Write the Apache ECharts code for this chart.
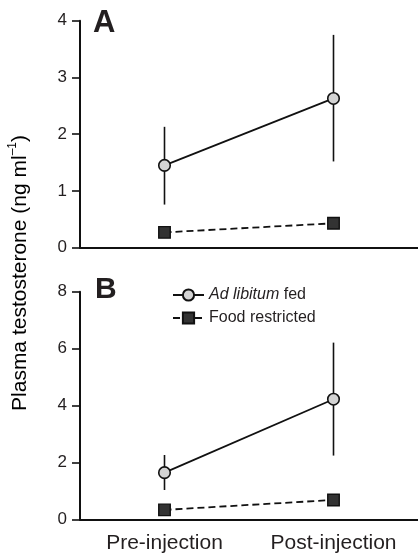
<!DOCTYPE html>
<html>
<head>
<meta charset="utf-8">
<script src="https://cdn.jsdelivr.net/npm/echarts@6/dist/echarts.min.js"></script>
<style>html,body{margin:0;padding:0;background:#fff;}#c{width:418px;height:554px;}</style>
</head>
<body>
<div id="c"></div>
<script>
var categories = ['Pre-injection', 'Post-injection'];
var seriesNames = ['Ad libitum fed', 'Food restricted'];
// Panel A
var adLibA = [1.45, 2.63];
var adLibA_low = [0.76, 1.52];
var adLibA_high = [2.13, 3.75];
var foodA = [0.27, 0.43];
// Panel B
var adLibB = [1.64, 4.22];
var adLibB_low = [1.03, 2.24];
var adLibB_high = [2.26, 6.21];
var foodB = [0.33, 0.68];
var yTicksA = [0, 1, 2, 3, 4];
var yTicksB = [0, 2, 4, 6, 8];
var panelLabels = ['A', 'B'];

var FONT = '"Liberation Sans", Arial, Helvetica, sans-serif';
var TXT = '#231f20';

function errData(low, high) {
  return low.map(function (l, i) { return [i, l, high[i]]; });
}
function errSeries(idx, low, high) {
  return {
    type: 'custom', xAxisIndex: idx, yAxisIndex: idx, z: 1, silent: true,
    data: errData(low, high),
    renderItem: function (params, api) {
      var p1 = api.coord([api.value(0), api.value(1)]);
      var p2 = api.coord([api.value(0), api.value(2)]);
      return { type: 'line', shape: { x1: p1[0], y1: p1[1], x2: p2[0], y2: p2[1] },
        style: { stroke: '#111', lineWidth: 1.6 } };
    }
  };
}
function xAx(idx, showLabel) {
  return {
    type: 'category', gridIndex: idx, data: categories, boundaryGap: true,
    axisLine: { lineStyle: { color: '#111', width: 2 } },
    axisTick: { alignWithLabel: true, length: 9, lineStyle: { color: '#111', width: 1.6 } },
    axisLabel: { show: showLabel, margin: 13, fontSize: 21, color: TXT, fontFamily: FONT },
    splitLine: { show: false }
  };
}
function yAx(idx, ticks) {
  return {
    type: 'value', gridIndex: idx, min: ticks[0], max: ticks[ticks.length - 1],
    interval: ticks[1] - ticks[0],
    axisLine: { show: true, lineStyle: { color: '#111', width: 2 } },
    axisTick: { show: true, length: 8, lineStyle: { color: '#111', width: 1.6 } },
    axisLabel: { margin: 13, fontSize: 17, color: TXT, fontFamily: FONT },
    splitLine: { show: false }
  };
}
function adSeries(idx, data) {
  return {
    name: seriesNames[0], type: 'line', xAxisIndex: idx, yAxisIndex: idx, z: 3,
    data: data, symbol: 'circle', symbolSize: 11.5,
    itemStyle: { color: '#d4d4d4', borderColor: '#111', borderWidth: 1.6 },
    lineStyle: { color: '#111', width: 1.8, type: 'solid' }
  };
}
function frSeries(idx, data) {
  return {
    name: seriesNames[1], type: 'line', xAxisIndex: idx, yAxisIndex: idx, z: 3,
    data: data, symbol: 'rect', symbolSize: 11.5,
    itemStyle: { color: '#333333', borderColor: '#111', borderWidth: 1.4 },
    lineStyle: { color: '#111', width: 1.8, type: [7, 4] }
  };
}

var chart = echarts.init(document.getElementById('c'), null, { renderer: 'canvas' });
chart.setOption({
  animation: false,
  backgroundColor: '#fff',
  grid: [
    { left: 80, right: -3, top: 20.7, height: 227 },
    { left: 80, right: -3, top: 291.7, height: 227.6 }
  ],
  xAxis: [xAx(0, false), xAx(1, true)],
  yAxis: [yAx(0, yTicksA), yAx(1, yTicksB)],
  legend: {
    orient: 'vertical', left: 172, top: 287, padding: 0, itemWidth: 31, itemHeight: 14, itemGap: 7,
    data: seriesNames,
    textStyle: { fontSize: 16, color: TXT, fontFamily: FONT,
      rich: { i: { fontStyle: 'italic', fontSize: 16, color: TXT, fontFamily: FONT } } },
    formatter: function (n) { return n === seriesNames[0] ? '{i|Ad libitum} fed' : n; }
  },
  graphic: [
    { type: 'text', left: 93, top: 8, z: 10,
      style: { text: panelLabels[0], font: 'bold 31px ' + FONT, fill: TXT } },
    { type: 'text', left: 95, top: 275, z: 10,
      style: { text: panelLabels[1], font: 'bold 30px ' + FONT, fill: TXT } },
    { type: 'text', x: 19, y: 273, rotation: Math.PI / 2, z: 10,
      style: {
        text: '{n|Plasma testosterone (ng ml}{s|–1}{n|)}',
        align: 'center', verticalAlign: 'middle',
        rich: {
          n: { fontSize: 21, fontFamily: FONT, color: TXT, lineHeight: 24, verticalAlign: 'bottom' },
          s: { fontSize: 12, fontFamily: FONT, color: TXT, lineHeight: 24, verticalAlign: 'top' }
        }
      } }
  ],
  series: [
    errSeries(0, adLibA_low, adLibA_high),
    adSeries(0, adLibA),
    frSeries(0, foodA),
    errSeries(1, adLibB_low, adLibB_high),
    adSeries(1, adLibB),
    frSeries(1, foodB)
  ]
});
</script>
</body>
</html>
